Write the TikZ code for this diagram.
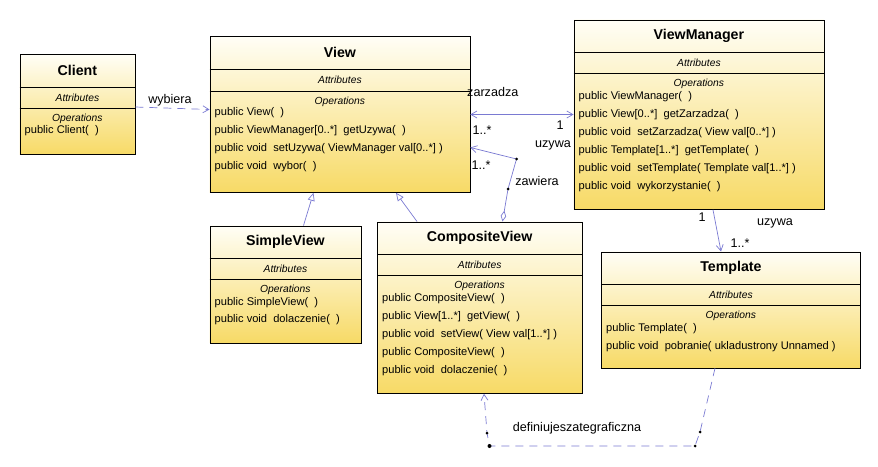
\documentclass[tikz,border=0pt]{standalone}
\usepackage{fontspec}
\setmainfont{Liberation Sans}
\usetikzlibrary{arrows.meta,calc}
\definecolor{topc}{HTML}{FFFEF6}
\definecolor{botc}{HTML}{F7DA66}
\definecolor{conn}{HTML}{7A7AD2}
\tikzset{
  classnode/.style={draw=black, line width=0.8pt, top color=topc, bottom color=botc, anchor=north west, inner sep=0pt, rectangle},
  titletext/.style={font=\fontsize{14.2}{16}\selectfont\bfseries, inner sep=0pt},
  smallit/.style={font=\fontsize{10.3}{11}\selectfont\itshape, inner sep=0pt},
  optext/.style={font=\fontsize{11.1}{12}\selectfont, anchor=west, inner sep=0pt},
  lbl/.style={font=\fontsize{12.6}{14}\selectfont, inner sep=0pt},
  conline/.style={draw=conn, line width=0.7pt},
  dashline/.style={draw=conn, line width=0.7pt, dash pattern=on 8pt off 6pt},
  dotmark/.style={circle, fill=black, inner sep=0pt, minimum size=3pt},
  >={Straight Barb[length=6pt,width=7pt]},
}
\newcommand\classbox[8]{%
  \node[classnode, minimum width=#4pt, minimum height=#5pt] (#1) at (#2,#3) {};
  \draw[line width=0.7pt] ($(#1.north west)+(0,#6)$) -- ($(#1.north east)+(0,#6)$);
  \draw[line width=0.7pt] ($(#1.north west)+(0,#7)$) -- ($(#1.north east)+(0,#7)$);
  \node[titletext] (#1-t) at ($(#1.north)+(0,{#6/2})$) {#8};
  \node[smallit] (#1-a) at ($(#1.north)+(0,{(#6+#7)/2})$) {Attributes};
  \node[smallit] (#1-o) at ($(#1.north)+(0,{#7+10.5})$) {Operations};
}
\newcommand\opline[4]{%
  \node[optext] (#1) at ($(#2.north west)+(5,#3)$) {#4};
}
\begin{document}
\begin{tikzpicture}[x=1pt,y=-1pt]
\useasboundingbox (0,0) rectangle (878,466);

\classbox{client}{19.5}{54}{115}{100}{33}{54}{Client}
\opline{client-o1}{client}{77}{public Client(\ \ )}

\classbox{view}{209.5}{36}{260}{156}{33.5}{55}{View}
\opline{view-o1}{view}{77}{public View(\ \ )}
\opline{view-o2}{view}{95}{public ViewManager[0..*]\ \ getUzywa(\ \ )}
\opline{view-o3}{view}{113}{public void\ \ setUzywa( ViewManager val[0..*] )}
\opline{view-o4}{view}{131}{public void\ \ wybor(\ \ )}

\classbox{vm}{573.5}{19.5}{250}{189.5}{33}{54}{ViewManager}
\opline{vm-o1}{vm}{77}{public ViewManager(\ \ )}
\opline{vm-o2}{vm}{95}{public View[0..*]\ \ getZarzadza(\ \ )}
\opline{vm-o3}{vm}{113}{public void\ \ setZarzadza( View val[0..*] )}
\opline{vm-o4}{vm}{131}{public Template[1..*]\ \ getTemplate(\ \ )}
\opline{vm-o5}{vm}{149.5}{public void\ \ setTemplate( Template val[1..*] )}
\opline{vm-o6}{vm}{167}{public void\ \ wykorzystanie(\ \ )}

\classbox{simple}{209.5}{225.5}{151}{117}{33}{54}{SimpleView}
\opline{simple-o1}{simple}{77}{public SimpleView(\ \ )}
\opline{simple-o2}{simple}{94.5}{public void\ \ dolaczenie(\ \ )}

\classbox{comp}{377}{221.5}{204.5}{171.5}{33}{54}{CompositeView}
\opline{comp-o1}{comp}{77}{public CompositeView(\ \ )}
\opline{comp-o2}{comp}{95}{public View[1..*]\ \ getView(\ \ )}
\opline{comp-o3}{comp}{113}{public void\ \ setView( View val[1..*] )}
\opline{comp-o4}{comp}{131}{public CompositeView(\ \ )}
\opline{comp-o5}{comp}{149}{public void\ \ dolaczenie(\ \ )}

\classbox{tmpl}{601}{251.5}{259}{116}{33}{54}{Template}
\opline{tmpl-o1}{tmpl}{77}{public Template(\ \ )}
\opline{tmpl-o2}{tmpl}{95}{public void\ \ pobranie( ukladustrony Unnamed )}

% Client -> View (wybiera)
\draw[dashline, ->] ($(client.north east)+(0,53)$) -- ($(view.north west)+(0,73.5)$);
\node[lbl] (l-wyb) at (170,100) {wybiera};

% View <-> ViewManager
\draw[conline, <->] ($(view.north east)+(0,78.5)$) -- ($(vm.north west)+(0,95)$);
\node[lbl, anchor=west] (l-zarz) at (467,91.5) {zarzadza};
\node[lbl] (l-m1) at (482,130) {1..*};
\node[lbl] (l-m2) at (560,125) {1};
\node[lbl] (l-uz1) at (553,145) {uzywa};

% Aggregation CompositeView -> View
\coordinate (ag1) at (508,189);
\coordinate (ag2) at (516.5,159);
\draw[conline, {Diamond[open,length=11pt,width=5.5pt]}-] ($(comp.north west)+(125.5,0)$) -- (ag1);
\draw[conline, ->] (ag1) -- (ag2) -- ($(view.north east)+(0,111.5)$);
\node[dotmark] (d1) at (ag1) {};
\node[dotmark] (d2) at (ag2) {};
\node[lbl] (l-m3) at (481,165) {1..*};
\node[lbl] (l-zaw) at (537,181) {zawiera};

% Generalizations
\draw[conline, -{Triangle[open,length=8pt,width=7pt]}] ($(simple.north west)+(94,0)$) -- ($(view.south west)+(104,0)$);
\draw[conline, -{Triangle[open,length=8pt,width=7pt]}] ($(comp.north west)+(40,0)$) -- ($(view.south west)+(186.5,0)$);

% ViewManager -> Template
\draw[conline, ->] ($(vm.south west)+(139.5,0)$) -- ($(tmpl.north west)+(120,0)$);
\node[lbl] (l-m4) at (702,217) {1};
\node[lbl] (l-uz2) at (775,223) {uzywa};
\node[lbl] (l-m5) at (740,243) {1..*};

% Dependency Template -> CompositeView
\coordinate (dp1) at (700,432);
\coordinate (dp2) at (695,446);
\coordinate (dp3) at (489.5,446);
\coordinate (dp4) at (487,433);
\draw[dashline, ->] ($(tmpl.south west)+(114,0)$) -- (dp1) -- (dp2) -- (dp3) -- (dp4) -- ($(comp.south west)+(107,0)$);
\node[dotmark] (d3) at (dp1) {};
\node[dotmark] (d4) at (dp2) {};
\node[dotmark, minimum size=4pt] (d5) at (dp3) {};
\node[dotmark] (d6) at (dp4) {};
\node[lbl] (l-def) at (577,428) {definiujeszategraficzna};
\end{tikzpicture}
\end{document}
